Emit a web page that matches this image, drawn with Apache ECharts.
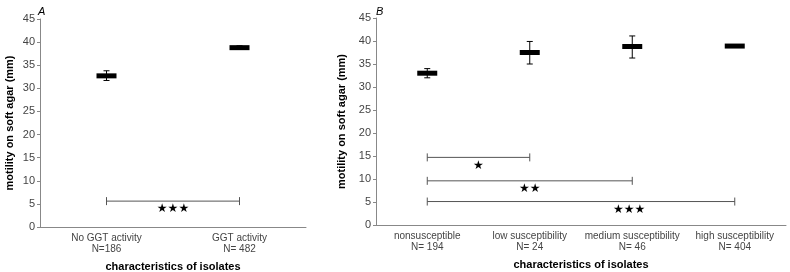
<!DOCTYPE html>
<html>
<head>
<meta charset="utf-8">
<script src="https://cdn.jsdelivr.net/npm/echarts@6/dist/echarts.min.js"></script>
<style>
  html, body { margin: 0; padding: 0; background: #fff; }
  #chart { width: 790px; height: 272px; }
</style>
</head>
<body>
<div id="chart"></div>
<script>
// panel A
const catsA = ['No GGT activity\nN=186', 'GGT activity\nN= 482']
const meanA = [32.7, 38.8]
const lowA = [31.7, 38.4]
const highA = [33.8, 39.2]
// [fromCat, toCat, y, starX (category units), stars]
const bracketsA = [[0, 1, 5.6, 0.5, '★★★']]

// panel B
const catsB = ['nonsusceptible\nN= 194', 'low susceptibility\nN= 24', 'medium susceptibility\nN= 46', 'high susceptibility\nN= 404']
const meanB = [33.0, 37.5, 38.8, 38.9]
const lowB = [32.0, 35.0, 36.3, 38.6]
const highB = [34.0, 39.9, 41.1, 39.2]
const bracketsB = [
  [0, 1, 14.7, 0.5, '★'],
  [0, 2, 9.6, 1.0, '★★'],
  [0, 3, 5.1, 1.97, '★★★']
]

const yTicks = { min: 0, max: 45, interval: 5 }
const font = 'Liberation Sans, Arial, sans-serif'

const chart = echarts.init(document.getElementById('chart'))

function xAxis(cats, gridIndex) {
  return {
    type: 'category', gridIndex, data: cats,
    name: 'characteristics of isolates', nameLocation: 'middle', nameGap: 34,
    nameTextStyle: { fontFamily: font, fontSize: 11, fontWeight: 'bold', color: '#000' },
    axisLine: { lineStyle: { color: '#888', width: 1 } },
    axisTick: { length: 3, lineStyle: { color: '#888' } },
    axisLabel: { interval: 0, fontFamily: font, fontSize: 10, color: '#444', lineHeight: 11, margin: 6 }
  }
}

function yAxis(gridIndex) {
  return {
    type: 'value', gridIndex, ...yTicks,
    name: 'motility on soft agar (mm)', nameLocation: 'middle', nameGap: 25,
    nameTextStyle: { fontFamily: font, fontSize: 11, fontWeight: 'bold', color: '#000' },
    splitLine: { show: false },
    axisLine: { show: true, lineStyle: { color: '#888', width: 1 } },
    axisTick: { show: true, length: 3, lineStyle: { color: '#888' } },
    axisLabel: { fontFamily: font, fontSize: 11, color: '#444', margin: 5 }
  }
}

function markers(means, idx) {
  return {
    type: 'scatter', xAxisIndex: idx, yAxisIndex: idx,
    symbol: 'rect', symbolSize: [20, 5],
    itemStyle: { color: '#000', opacity: 1 },
    data: means.map((v, i) => [i, v]), z: 5
  }
}

function errorBars(low, high, idx) {
  return {
    type: 'custom', xAxisIndex: idx, yAxisIndex: idx,
    renderItem: function (params, api) {
      const x = api.value(0)
      const lo = api.coord([x, api.value(1)])
      const hi = api.coord([x, api.value(2)])
      const cap = 3
      const style = { stroke: '#000', lineWidth: 1 }
      return {
        type: 'group',
        children: [
          { type: 'line', shape: { x1: lo[0], y1: lo[1], x2: hi[0], y2: hi[1] }, style },
          { type: 'line', shape: { x1: lo[0] - cap, y1: lo[1], x2: lo[0] + cap, y2: lo[1] }, style },
          { type: 'line', shape: { x1: hi[0] - cap, y1: hi[1], x2: hi[0] + cap, y2: hi[1] }, style }
        ]
      }
    },
    encode: { x: 0, y: [1, 2] },
    data: low.map((v, i) => [i, v, high[i]]), z: 4
  }
}

function brackets(list, idx) {
  return {
    type: 'custom', xAxisIndex: idx, yAxisIndex: idx,
    renderItem: function (params, api) {
      const y = api.value(2)
      const a = api.coord([api.value(0), y])
      const b = api.coord([api.value(1), y])
      // label x between category centres
      const c0 = api.coord([0, y])[0]
      const c1 = api.coord([1, y])[0]
      const sx = c0 + (c1 - c0) * api.value(3)
      const style = { stroke: '#555', lineWidth: 1 }
      return {
        type: 'group',
        children: [
          { type: 'line', shape: { x1: a[0], y1: a[1], x2: b[0], y2: b[1] }, style },
          { type: 'line', shape: { x1: a[0], y1: a[1] - 4, x2: a[0], y2: a[1] + 4 }, style },
          { type: 'line', shape: { x1: b[0], y1: b[1] - 4, x2: b[0], y2: b[1] + 4 }, style },
          {
            type: 'text', x: sx, y: a[1] + 8,
            style: {
              text: list[params.dataIndex][4], fill: '#000',
              font: '12px "DejaVu Sans"', align: 'center', verticalAlign: 'middle'
            }
          }
        ]
      }
    },
    encode: { x: [0, 1], y: 2 },
    data: list.map(r => [r[0], r[1], r[2], r[3]])
  }
}

const option = {
  animation: false,
  backgroundColor: '#fff',
  title: [
    { text: 'A', left: 33, top: 1, textStyle: { fontFamily: font, fontSize: 11, fontStyle: 'italic', fontWeight: 'normal', color: '#000' } },
    { text: 'B', left: 371, top: 1, textStyle: { fontFamily: font, fontSize: 11, fontStyle: 'italic', fontWeight: 'normal', color: '#000' } }
  ],
  grid: [
    { left: 40, right: 484, top: 19, bottom: 45, outerBoundsMode: 'none' },
    { left: 376, right: 4, top: 18, bottom: 47, outerBoundsMode: 'none' }
  ],
  xAxis: [xAxis(catsA, 0), xAxis(catsB, 1)],
  yAxis: [yAxis(0), yAxis(1)],
  series: [
    errorBars(lowA, highA, 0),
    markers(meanA, 0),
    brackets(bracketsA, 0),
    errorBars(lowB, highB, 1),
    markers(meanB, 1),
    brackets(bracketsB, 1)
  ]
}

chart.setOption(option)
</script>
</body>
</html>
